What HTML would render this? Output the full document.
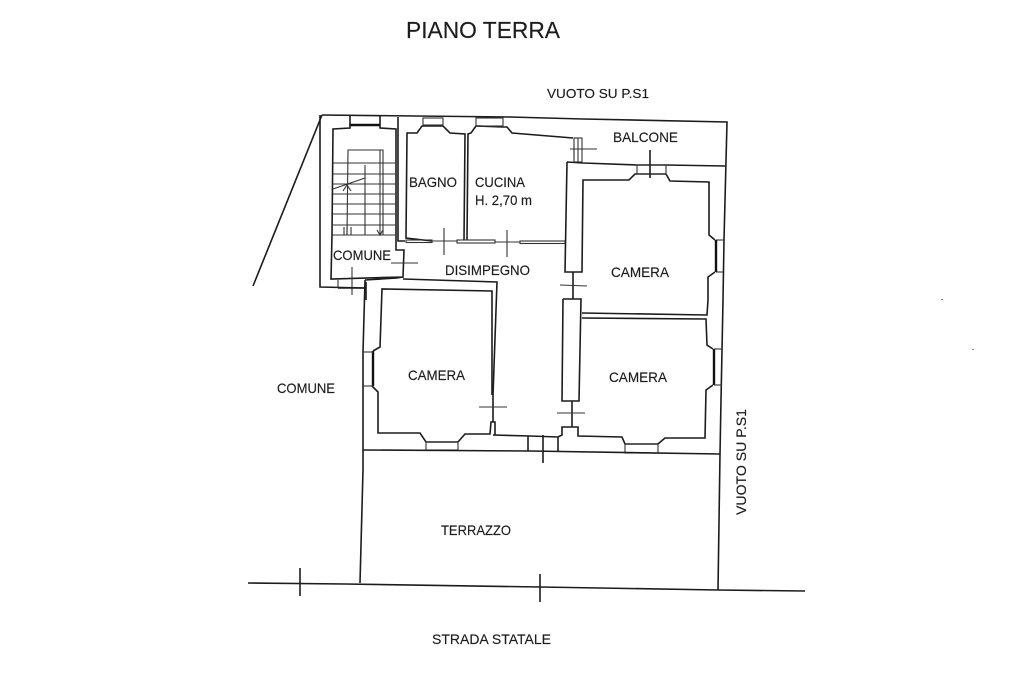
<!DOCTYPE html>
<html><head><meta charset="utf-8"><style>
html,body{margin:0;padding:0;background:#fff}
svg{display:block}
text{font-family:"Liberation Sans",sans-serif;fill:#1c1c1c;stroke:#1c1c1c;stroke-width:.15}
.w{fill:none;stroke:#1c1c1c;stroke-width:1.6}
.t{fill:none;stroke:#333;stroke-width:1.1}
.k{fill:none;stroke:#111;stroke-width:2.4}
</style></head><body>
<svg width="1024" height="682" viewBox="0 0 1024 682" xmlns="http://www.w3.org/2000/svg">
<rect width="1024" height="682" fill="#fff"/>
<!-- outer -->
<polyline class="w" points="322,115 510,117 583,119 727,122 724,240 723,300 721,400 720,454 718,590"/>
<polyline class="w" points="322,115 253,286"/>
<polyline class="w" points="320,115 320,287 365,288"/>
<!-- stair room -->
<polyline class="w" points="350,115 350,128 333,129 332,235 331,279 403,277 404,250 396,250 396,240 396,129 380,128 380,115"/>
<polyline class="k" points="350,125 380,125"/>
<polyline class="w" points="398,117 398,241 405,241"/>
<!-- stairs -->
<g class="t">
<polyline points="333,163 396,163"/><polyline points="333,174 396,174"/><polyline points="333,184 396,184"/><polyline points="333,194 396,194"/><polyline points="333,204 396,204"/><polyline points="333,214 396,214"/><polyline points="333,225 396,225"/><polyline points="332,235 396,235"/>
<polyline points="347,235 348,150 383,150 383,235"/>
<polyline points="365,165 365,235"/>
<polyline points="333,189 365,178"/>
<polyline points="343,191 347,185 351,191"/>
<polyline points="344,227 344,235"/><polyline points="347,227 347,235"/><polyline points="351,227 351,235"/>
<polyline points="377,230 380,235 383,230"/><polyline points="380,150 380,235"/>
</g>
<!-- bagno -->
<polyline class="w" points="432,241 406,238 407,133 417,133 422,126 443,126 450,133 465,134 464,240"/>
<rect class="t" x="423" y="118" width="20" height="7"/>
<!-- cucina -->
<polyline class="w" points="467,240 468,134 471,133 476,126 503,127 507,127 512,133 573,138"/>
<rect class="t" x="476" y="118" width="27" height="8"/>
<rect class="t" x="574" y="138" width="8" height="24"/>
<polyline class="t" points="578,138 578,162"/>
<polyline class="t" points="570,149 597,149"/><polyline class="t" points="574,144 574,158"/>
<!-- partition -->
<rect class="t" x="406" y="240" width="26" height="2.5"/>
<rect class="t" x="457" y="240" width="38" height="3"/>
<rect class="t" x="520" y="241" width="45" height="2.5"/>
<polyline class="t" points="432,241 457,241"/><polyline class="t" points="495,242 520,242"/>
<polyline class="t" points="444,228 444,255"/><polyline class="t" points="507,230 507,257"/>
<polyline class="t" points="391,263 418,263"/>
<!-- balcony + camera 1 -->
<polyline class="w" points="567,162 583,163 637,165 666,165 725,166"/>
<polyline class="w" points="567,162 565,272 582,272 583,180 629,180 635,174 666,174 670,181 709,182 709,235 715,240"/>
<polyline class="w" points="715,272 708,277 708,300 707,315 582,313"/>
<rect class="t" x="637" y="165" width="29" height="9"/>
<polyline class="w" points="650,150 650,178"/>
<polyline class="t" points="716,240 724,240"/><polyline class="t" points="716,272 723,272"/>
<polyline class="k" points="716,240 716,272"/>
<!-- door between -->
<polyline class="w" points="573,272 573,299"/>
<polyline class="t" points="560,285 587,286"/>
<polyline class="w" points="563,299 581,299 579,401 562,401 563,299"/>
<polyline class="w" points="572,401 572,427"/>
<polyline class="t" points="557,413 585,413"/>
<!-- camera 2 -->
<polyline class="w" points="582,318 706,319 707,345 713,349"/>
<polyline class="w" points="713,385 706,390 705,438 665,438 658,444 625,444 622,437 578,436 578,427 562,427 562,435 558,437 530,436 493,435"/>
<polyline class="k" points="714,349 714,385"/>
<polyline class="t" points="714,349 722,349"/><polyline class="t" points="714,385 722,385"/>
<rect class="t" x="625" y="444" width="33" height="9"/>
<!-- disimpegno bottom + camera 3 -->
<polyline class="w" points="365,280 397,278 403,277"/>
<polyline class="w" points="403,279 497,282 493,395 493,422"/>
<polyline class="w" points="492,395 492,291 382,289 380,347 373,351"/>
<polyline class="w" points="372,386 378,392 378,433 420,433 426,442 458,442 465,434 490,434 491,422 495,422 495,435"/>
<polyline class="w" points="365,280 363,352 363,470 360,583"/>
<polyline class="k" points="373,351 373,386"/>
<polyline class="t" points="363,352 373,352"/><polyline class="t" points="363,386 373,386"/>
<rect class="t" x="426" y="442" width="32" height="8"/>
<polyline class="t" points="479,407 507,407"/>
<!-- comune door -->
<polyline class="t" points="338,280 338,288"/><polyline class="t" points="352,267 352,295"/><polyline class="w" points="338,288 366,288"/><polyline class="w" points="366,282 366,300"/>
<!-- front door -->
<polyline class="w" points="528,436 528,451"/><polyline class="w" points="558,437 558,452"/><polyline class="w" points="543,435 543,463"/>
<!-- terrace -->
<polyline class="w" points="363,450 530,451 720,454"/>
<polyline class="w" points="248,583 345,584 540,587 718,590 805,591"/>
<polyline class="w" points="300,568 300,596"/><polyline class="w" points="540,574 540,602"/>
<rect x="941" y="299" width="2" height="1" fill="#777"/><rect x="972" y="349" width="2" height="1" fill="#999"/>
<!-- labels -->
<text x="406" y="38" font-size="23" textLength="154" lengthAdjust="spacingAndGlyphs">PIANO TERRA</text>
<text x="547" y="98" font-size="13" textLength="102" lengthAdjust="spacingAndGlyphs">VUOTO SU P.S1</text>
<text x="613" y="142" font-size="14" textLength="65" lengthAdjust="spacingAndGlyphs">BALCONE</text>
<text x="409" y="187" font-size="14" textLength="48" lengthAdjust="spacingAndGlyphs">BAGNO</text>
<text x="475" y="187" font-size="14" textLength="50" lengthAdjust="spacingAndGlyphs">CUCINA</text>
<text x="475" y="205" font-size="14" textLength="57" lengthAdjust="spacingAndGlyphs">H. 2,70 m</text>
<text x="333" y="260" font-size="14" textLength="58" lengthAdjust="spacingAndGlyphs">COMUNE</text>
<text x="445" y="275" font-size="14" textLength="85" lengthAdjust="spacingAndGlyphs">DISIMPEGNO</text>
<text x="611" y="277" font-size="14" textLength="58" lengthAdjust="spacingAndGlyphs">CAMERA</text>
<text x="408" y="380" font-size="14" textLength="57" lengthAdjust="spacingAndGlyphs">CAMERA</text>
<text x="609" y="382" font-size="14" textLength="58" lengthAdjust="spacingAndGlyphs">CAMERA</text>
<text x="277" y="393" font-size="14" textLength="58" lengthAdjust="spacingAndGlyphs">COMUNE</text>
<text x="441" y="535" font-size="14" textLength="70" lengthAdjust="spacingAndGlyphs">TERRAZZO</text>
<text x="432" y="644" font-size="14" textLength="119" lengthAdjust="spacingAndGlyphs">STRADA STATALE</text>
<text transform="translate(746,515) rotate(-90)" font-size="14" textLength="106" lengthAdjust="spacingAndGlyphs">VUOTO SU P.S1</text>
</svg>
</body></html>
